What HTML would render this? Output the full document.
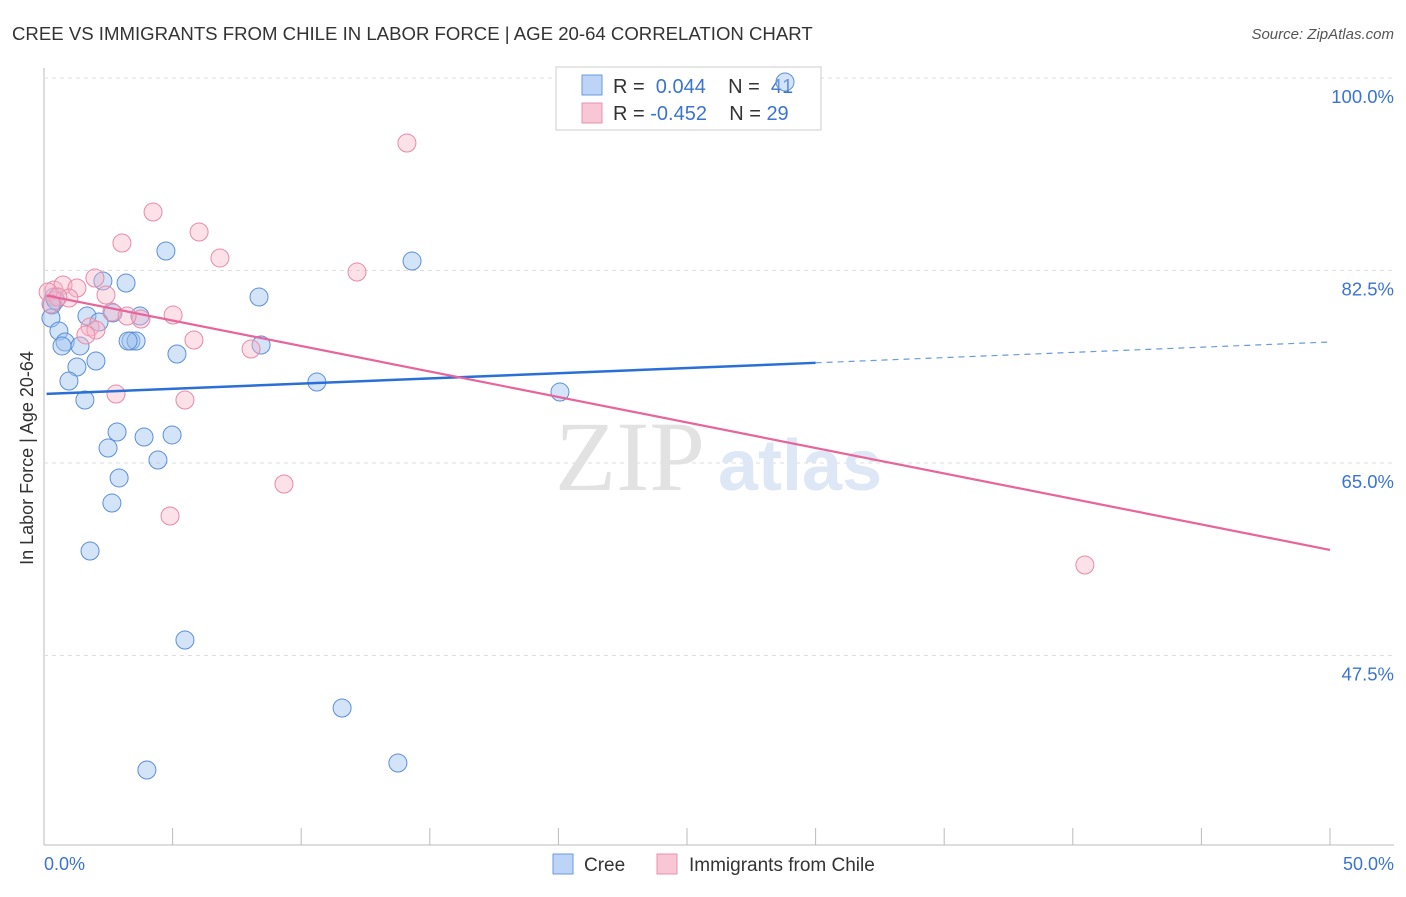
<!DOCTYPE html>
<html><head><meta charset="utf-8"><style>
body{margin:0;background:#fff;font-family:"Liberation Sans",sans-serif;}
</style></head><body>
<svg width="1406" height="892" xmlns="http://www.w3.org/2000/svg">
<text x="12" y="40" font-size="18.6" fill="#333">CREE VS IMMIGRANTS FROM CHILE IN LABOR FORCE | AGE 20-64 CORRELATION CHART</text>
<text x="1394" y="39" font-size="15" fill="#555" text-anchor="end" font-style="italic">Source: ZipAtlas.com</text>
<g id="grid"></g>
<text x="555" y="490" font-size="100" fill="#e2e2e2" font-family="Liberation Serif">ZIP</text>
<text x="718" y="490" font-size="72" fill="#dde7f5" font-weight="bold">atlas</text>
<g>
<rect x="556" y="67" width="265" height="63" fill="#fff" stroke="#ccc"/>
<rect x="582" y="75" width="20" height="20" fill="#bcd4f5" stroke="#6a9ae0"/>
<rect x="582" y="103" width="20" height="20" fill="#f9c6d6" stroke="#e890ac"/>
<text x="613" y="93" font-size="20" fill="#333">R = <tspan fill="#3b74d0">&#160;0.044</tspan>&#160;&#160;&#160; N = <tspan fill="#3b74d0">&#160;41</tspan></text>
<text x="613" y="120" font-size="20" fill="#333">R = <tspan fill="#3b74d0">-0.452</tspan>&#160;&#160;&#160; N = <tspan fill="#3b74d0">29</tspan></text>
</g>
<g id="pts"></g>
<g id="lines"></g>
<text x="33" y="458" font-size="18" fill="#333" text-anchor="middle" transform="rotate(-90 33 458)">In Labor Force | Age 20-64</text>
<text x="44" y="870" font-size="18" fill="#3b74d0">0.0%</text>
<text x="1394" y="870" font-size="18" fill="#3b74d0" text-anchor="end">50.0%</text>
<g>
<rect x="553" y="854" width="20" height="20" fill="#bcd4f5" stroke="#6a9ae0"/>
<text x="584" y="871" font-size="19" fill="#333">Cree</text>
<rect x="657" y="854" width="20" height="20" fill="#f9c6d6" stroke="#e890ac"/>
<text x="689" y="871" font-size="19" fill="#333">Immigrants from Chile</text>
</g>
</svg>
<script>
const yTicks=[100,82.5,65,47.5];
const yTickLabels=["100.0%","82.5%","65.0%","47.5%"];
const xTicks=[0,5,10,15,20,25,30,35,40,45,50];
const creeX=[28.81,4.74,14.31,3.19,2.29,8.36,0.39,0.31,0.27,1.67,2.68,3.73,2.14,0.58,0.82,0.70,1.40,3.38,3.58,3.27,8.44,5.17,2.02,1.28,0.97,10.61,20.06,1.59,2.84,3.89,4.98,2.49,4.43,2.92,2.64,1.79,5.48,11.59,4.0,13.76,0.45];
const creeY=[99.64,84.27,83.36,81.36,81.55,80.09,80.09,79.36,78.18,78.36,78.64,78.36,77.82,77.0,76.0,75.64,75.64,76.09,76.09,76.09,75.73,74.91,74.27,73.73,72.45,72.36,71.45,70.73,67.82,67.36,67.55,66.36,65.27,63.64,61.36,57.0,48.91,42.73,37.09,37.73,79.8];
const chileX=[14.11,4.24,6.03,3.03,6.84,12.17,1.98,0.39,0.74,0.16,1.28,0.97,2.41,0.54,0.27,2.64,5.02,3.77,3.23,1.79,2.02,1.63,5.83,8.05,2.80,5.48,9.33,4.90,40.47];
const chileY=[94.09,87.82,86.0,85.0,83.64,82.36,81.82,80.73,81.18,80.55,80.91,80.0,80.27,80.09,79.45,78.73,78.45,78.09,78.36,77.36,77.09,76.64,76.18,75.36,71.27,70.73,63.09,60.18,55.73];
const creeTrend=[71.27,76.0];
const creeSolidEnd=30;
const chileTrend=[80.27,57.1];
const NS="http://www.w3.org/2000/svg";
const X=v=>44+v/50*1286, Y=v=>78+(100-v)*11;
function mk(t,a,p){const e=document.createElementNS(NS,t);for(const k in a)e.setAttribute(k,a[k]);p.appendChild(e);return e;}
const grid=document.getElementById('grid');
let ax=mk('line',{x1:44,y1:68,x2:44,y2:845,stroke:'#bbb'},grid);

let bx=mk('line',{x1:44,y1:845,x2:1394,y2:845,stroke:'#bbb'},grid);

yTicks.forEach((t,i)=>{
 const g=mk('line',{x1:44,y1:Y(t),x2:1394,y2:Y(t),stroke:'#ddd','stroke-dasharray':'4 4'},grid);
 
 const l=mk('text',{x:1394,y:Y(t)+25,'font-size':18.5,fill:'#3b74d0','text-anchor':'end'},grid);
 l.textContent=yTickLabels[i];
 
});
xTicks.forEach(t=>{
 const k=mk('line',{x1:X(t),y1:828,x2:X(t),y2:845,stroke:'#bbb'},grid);
 
});
const pts=document.getElementById('pts');
creeX.forEach((x,i)=>{
 const c=mk('circle',{cx:X(x),cy:Y(creeY[i]),r:9,fill:'rgba(160,196,240,0.45)',stroke:'#5b8fd8','stroke-width':1},pts);
 
});
chileX.forEach((x,i)=>{
 const c=mk('circle',{cx:X(x),cy:Y(chileY[i]),r:9,fill:'rgba(248,180,200,0.4)',stroke:'#e88aa8','stroke-width':1},pts);
 
});
const L=document.getElementById('lines');
const cy=x=>creeTrend[0]+(creeTrend[1]-creeTrend[0])*x/50;
let l1=mk('line',{x1:X(0.1),y1:Y(cy(0.1)),x2:X(creeSolidEnd),y2:Y(cy(creeSolidEnd)),stroke:'#2a6fd6','stroke-width':2.5},L);

let l2=mk('line',{x1:X(creeSolidEnd),y1:Y(cy(creeSolidEnd)),x2:X(49.9),y2:Y(cy(49.9)),stroke:'#6a9ae0','stroke-width':1.2,'stroke-dasharray':'6 5'},L);

const py=x=>chileTrend[0]+(chileTrend[1]-chileTrend[0])*x/50;
let l3=mk('line',{x1:X(0.1),y1:Y(py(0.1)),x2:X(50),y2:Y(py(50)),stroke:'#e8649a','stroke-width':2.2},L);

</script>
</body></html>
